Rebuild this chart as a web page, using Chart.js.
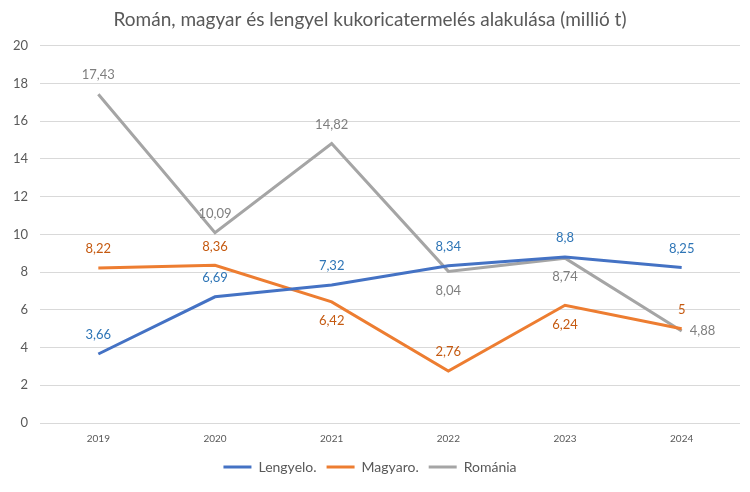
<!DOCTYPE html>
<html>
<head>
<meta charset="utf-8">
<script src="https://cdn.jsdelivr.net/npm/chart.js@4"></script>
<style>
  html, body { margin: 0; padding: 0; background: #fff; }
  #wrap { width: 750px; height: 492px; }
</style>
</head>
<body>
<div id="wrap"><canvas id="chartKukorica"></canvas></div>
<script>
var evek = ["2019", "2020", "2021", "2022", "2023", "2024"];
var lengyel = [3.66, 6.69, 7.32, 8.34, 8.8, 8.25];
var magyar = [8.22, 8.36, 6.42, 2.76, 6.24, 5];
var roman = [17.43, 10.09, 14.82, 8.04, 8.74, 4.88];
var yTicks = [0, 2, 4, 6, 8, 10, 12, 14, 16, 18, 20];

// felirat helye pontonkent: a = above, b = below, r = right
var helyek = [
  ["a", "a", "a", "a", "a", "a"],
  ["a", "a", "b", "a", "b", "a"],
  ["a", "a", "a", "b", "b", "r"]
];
var feliratSzin = ["#2E75B6", "#C55A11", "#7F7F7F"];

var betu = "Lato, 'Liberation Sans', sans-serif";

var cimkek = {
  id: "cimkek",
  afterDatasetsDraw: function (chart) {
    var ctx = chart.ctx;
    ctx.save();
    ctx.font = "13px " + betu;
    ctx.textBaseline = "middle";
    chart.data.datasets.forEach(function (ds, i) {
      var meta = chart.getDatasetMeta(i);
      ctx.fillStyle = feliratSzin[i];
      meta.data.forEach(function (pt, j) {
        var txt = String(ds.data[j]).replace(".", ",");
        var h = helyek[i][j];
        var x = pt.x, y = pt.y;
        ctx.textAlign = "center";
        if (h == "a") y -= 19;
        else if (h == "b") y += 19;
        else { ctx.textAlign = "left"; x += 8; }
        ctx.fillText(txt, x, y);
      });
    });
    ctx.restore();
  }
};

function plot() {
  var ctx = document.getElementById("chartKukorica");
  new Chart(ctx, {
    type: "line",
    data: {
      labels: evek,
      datasets: [
        { label: "Lengyelo.", data: lengyel, borderColor: "#4472C4", backgroundColor: "#4472C4", borderWidth: 3 },
        { label: "Magyaro.", data: magyar, borderColor: "#ED7D31", backgroundColor: "#ED7D31", borderWidth: 3 },
        { label: "Románia", data: roman, borderColor: "#A5A5A5", backgroundColor: "#A5A5A5", borderWidth: 3 }
      ]
    },
    options: {
      responsive: true,
      maintainAspectRatio: false,
      animation: false,
      layout: { padding: { left: 0, right: 10, top: 4, bottom: 8 } },
      elements: {
        line: { borderWidth: 3, tension: 0 },
        point: { radius: 0, hoverRadius: 0 }
      },
      plugins: {
        title: {
          display: true,
          text: "Román, magyar és lengyel kukoricatermelés alakulása (millió t)",
          color: "#595959",
          font: { family: betu, size: 19, weight: "normal" },
          padding: { top: 4, bottom: 15 }
        },
        legend: {
          position: "bottom",
          labels: {
            color: "#595959",
            font: { family: betu, size: 14 },
            usePointStyle: true,
            pointStyle: "line",
            pointStyleWidth: 28,
            boxWidth: 28,
            boxHeight: 3,
            padding: 10
          }
        },
        tooltip: { enabled: false }
      },
      scales: {
        x: {
          offset: true,
          grid: { display: false },
          border: { display: false },
          ticks: { color: "#595959", font: { family: betu, size: 10 }, padding: 2 },
          afterFit: function (s) { s.height = 27; }
        },
        y: {
          min: 0,
          max: 20,
          afterBuildTicks: function (s) { s.ticks = yTicks.map(function (v) { return { value: v }; }); },
          grid: { color: "#D9D9D9", lineWidth: 1, drawTicks: false },
          border: { display: false },
          ticks: { color: "#595959", font: { family: betu, size: 13 }, padding: 12 },
          afterFit: function (s) { s.width = 40; }
        }
      }
    },
    plugins: [cimkek]
  });
}

plot();
</script>
</body>
</html>
